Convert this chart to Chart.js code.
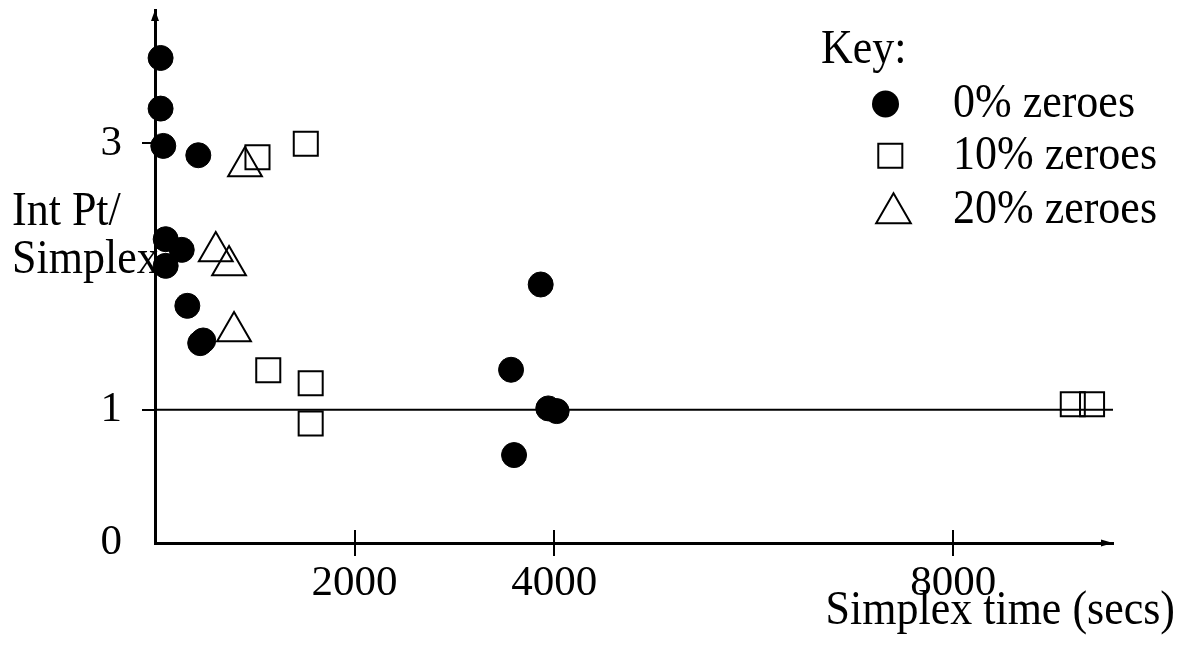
<!DOCTYPE html>
<html><head><meta charset="utf-8">
<script src="https://cdn.jsdelivr.net/npm/chart.js@4.4.1/dist/chart.umd.min.js"></script>
<style>html,body{margin:0;padding:0;background:#fff;overflow:hidden}</style>
</head><body>
<canvas id="c" width="1189" height="647" style="width:1189px;height:647px;display:block"></canvas>
<script>
// ---- data ----
const xTicks = [2000, 4000, 8000];
const yTicks = [0, 1, 3];
const xMin = 0, xMax = 9600;
const yMin = 0, yMax = 4;
const refLineY = 1;
const seriesNames = ['0% zeroes', '10% zeroes', '20% zeroes'];
const zeroes0X = [56, 56, 83, 434, 107, 268, 107, 324, 453, 483, 3865, 3568, 3941, 4025, 3598];
const zeroes0Y = [3.64, 3.26, 2.98, 2.91, 2.28, 2.20, 2.08, 1.78, 1.50, 1.52, 1.94, 1.30, 1.01, 0.99, 0.66];
const zeroes10X = [1027, 1511, 1135, 1560, 1560, 9197, 9390];
const zeroes10Y = [2.895, 2.996, 1.296, 1.199, 0.897, 1.042, 1.042];
const zeroes20X = [902, 609, 742, 792];
const zeroes20Y = [2.825, 2.187, 2.083, 1.587];
const yTitleLines = ['Int Pt/', 'Simplex'];
const xTitle = 'Simplex time (secs)';
const keyTitle = 'Key:';

const FONT = '"Liberation Serif", "Times New Roman", serif';
const toPts = (xs, ys) => xs.map((x, i) => ({x, y: ys[i]}));

function drawShape(ctx, style, x, y, r) {
  ctx.beginPath();
  if (style === 'circle') {
    ctx.arc(x, y, r, 0, Math.PI * 2);
    ctx.fill();
  } else if (style === 'rect') {
    const s = Math.SQRT1_2 * r;
    ctx.rect(x - s, y - s, 2 * s, 2 * s);
    ctx.stroke();
  } else if (style === 'triangle') {
    let a = 0;
    ctx.moveTo(x + Math.sin(a) * r, y - Math.cos(a) * r);
    a += Math.PI * 2 / 3;
    ctx.lineTo(x + Math.sin(a) * r, y - Math.cos(a) * r);
    a += Math.PI * 2 / 3;
    ctx.lineTo(x + Math.sin(a) * r, y - Math.cos(a) * r);
    ctx.closePath();
    ctx.stroke();
  }
}

// text slightly stretched vertically like the original typesetting
function tallText(ctx, str, x, baseY, sy) {
  ctx.save();
  ctx.translate(x, baseY);
  ctx.scale(1, sy);
  ctx.fillText(str, 0, 0);
  ctx.restore();
}

const decor = {
  id: 'decor',
  beforeDraw(chart) {
    const ctx = chart.ctx;
    ctx.save();
    ctx.fillStyle = '#fff';
    ctx.fillRect(0, 0, chart.width, chart.height);
    ctx.restore();
  },
  afterDraw(chart) {
    const {ctx, chartArea: a, scales: {x, y}} = chart;
    ctx.save();
    ctx.strokeStyle = '#000';
    ctx.fillStyle = '#000';
    ctx.lineWidth = 2;
    // tick marks
    x.ticks.forEach(t => {
      const px = Math.round(x.getPixelForValue(t.value));
      ctx.beginPath(); ctx.moveTo(px, a.bottom - 13); ctx.lineTo(px, a.bottom + 13); ctx.stroke();
    });
    y.ticks.forEach(t => {
      if (t.value === yMin) return;
      const py = Math.round(y.getPixelForValue(t.value));
      ctx.beginPath(); ctx.moveTo(a.left - 13, py); ctx.lineTo(a.left, py); ctx.stroke();
    });
    // arrow heads
    ctx.beginPath();
    ctx.moveTo(a.right, a.bottom); ctx.lineTo(a.right - 12, a.bottom - 3.5); ctx.lineTo(a.right - 12, a.bottom + 3.5);
    ctx.closePath(); ctx.fill();
    ctx.beginPath();
    ctx.moveTo(a.left, a.top); ctx.lineTo(a.left - 4, a.top + 11); ctx.lineTo(a.left + 4, a.top + 11);
    ctx.closePath(); ctx.fill();
    // axis titles
    const SY = 1.08;
    ctx.font = '44px ' + FONT;
    ctx.textBaseline = 'alphabetic';
    ctx.textAlign = 'left';
    tallText(ctx, yTitleLines[0], 12, 225, SY);
    tallText(ctx, yTitleLines[1], 12, 273, SY);
    ctx.textAlign = 'right';
    tallText(ctx, xTitle, 1175, 624, SY);
    // key
    ctx.textAlign = 'left';
    tallText(ctx, keyTitle, 821, 63, SY);
    const rows = [
      {mx: 885.5, my: 104, base: 117},
      {mx: 890.3, my: 155.8, base: 169},
      {mx: 893.5, my: 213.3, base: 223}
    ];
    const legendR = [13.5, 17, 20];
    chart.data.datasets.slice(0, 3).forEach((ds, i) => {
      ctx.lineWidth = 2;
      drawShape(ctx, ds.pointStyle, rows[i].mx, rows[i].my, legendR[i]);
      tallText(ctx, ds.label, 953, rows[i].base, SY);
    });
    ctx.restore();
  }
};

const fixScale = (w, h) => (scale) => {
  if (w !== null) scale.width = w;
  if (h !== null) scale.height = h;
  scale.paddingTop = 0; scale.paddingBottom = 0; scale.paddingLeft = 0; scale.paddingRight = 0;
};

Chart.defaults.font.family = FONT;
Chart.defaults.color = '#000';

new Chart(document.getElementById('c'), {
  type: 'scatter',
  data: {
    datasets: [
      {label: seriesNames[0], data: toPts(zeroes0X, zeroes0Y), pointStyle: 'circle', pointRadius: 12.5,
       pointBorderWidth: 1, pointBackgroundColor: '#000', pointBorderColor: '#000', clip: false},
      {label: seriesNames[1], data: toPts(zeroes10X, zeroes10Y), pointStyle: 'rect', pointRadius: 17,
       pointBorderWidth: 2, pointBackgroundColor: 'rgba(0,0,0,0)', pointBorderColor: '#000', clip: false},
      {label: seriesNames[2], data: toPts(zeroes20X, zeroes20Y), pointStyle: 'triangle', pointRadius: 19.5,
       pointBorderWidth: 2, pointBackgroundColor: 'rgba(0,0,0,0)', pointBorderColor: '#000', clip: false},
      {type: 'line', label: 'ref', data: [{x: xMin, y: refLineY}, {x: xMax, y: refLineY}],
       borderColor: '#000', borderWidth: 2, pointRadius: 0, clip: false}
    ]
  },
  options: {
    responsive: false,
    animation: false,
    events: [],
    layout: {autoPadding: false, padding: {top: 10, right: 76, bottom: 0, left: 0}},
    plugins: {legend: {display: false}, tooltip: {enabled: false}},
    scales: {
      x: {
        type: 'linear', min: xMin, max: xMax,
        afterBuildTicks: s => { s.ticks = xTicks.map(v => ({value: v})); },
        afterFit: fixScale(null, 104),
        grid: {display: false, drawTicks: false},
        border: {display: true, width: 3, color: '#000'},
        ticks: {autoSkip: false, maxRotation: 0, padding: 15, font: {size: 43, family: FONT}, color: '#000',
                callback: v => String(v)}
      },
      y: {
        type: 'linear', min: yMin, max: yMax,
        afterBuildTicks: s => { s.ticks = yTicks.map(v => ({value: v})); },
        afterFit: fixScale(155, null),
        grid: {display: false, drawTicks: false},
        border: {display: true, width: 3, color: '#000'},
        ticks: {autoSkip: false, padding: 33, font: {size: 43, family: FONT}, color: '#000',
                callback: v => String(v)}
      }
    }
  },
  plugins: [decor]
});
</script>
</body></html>
